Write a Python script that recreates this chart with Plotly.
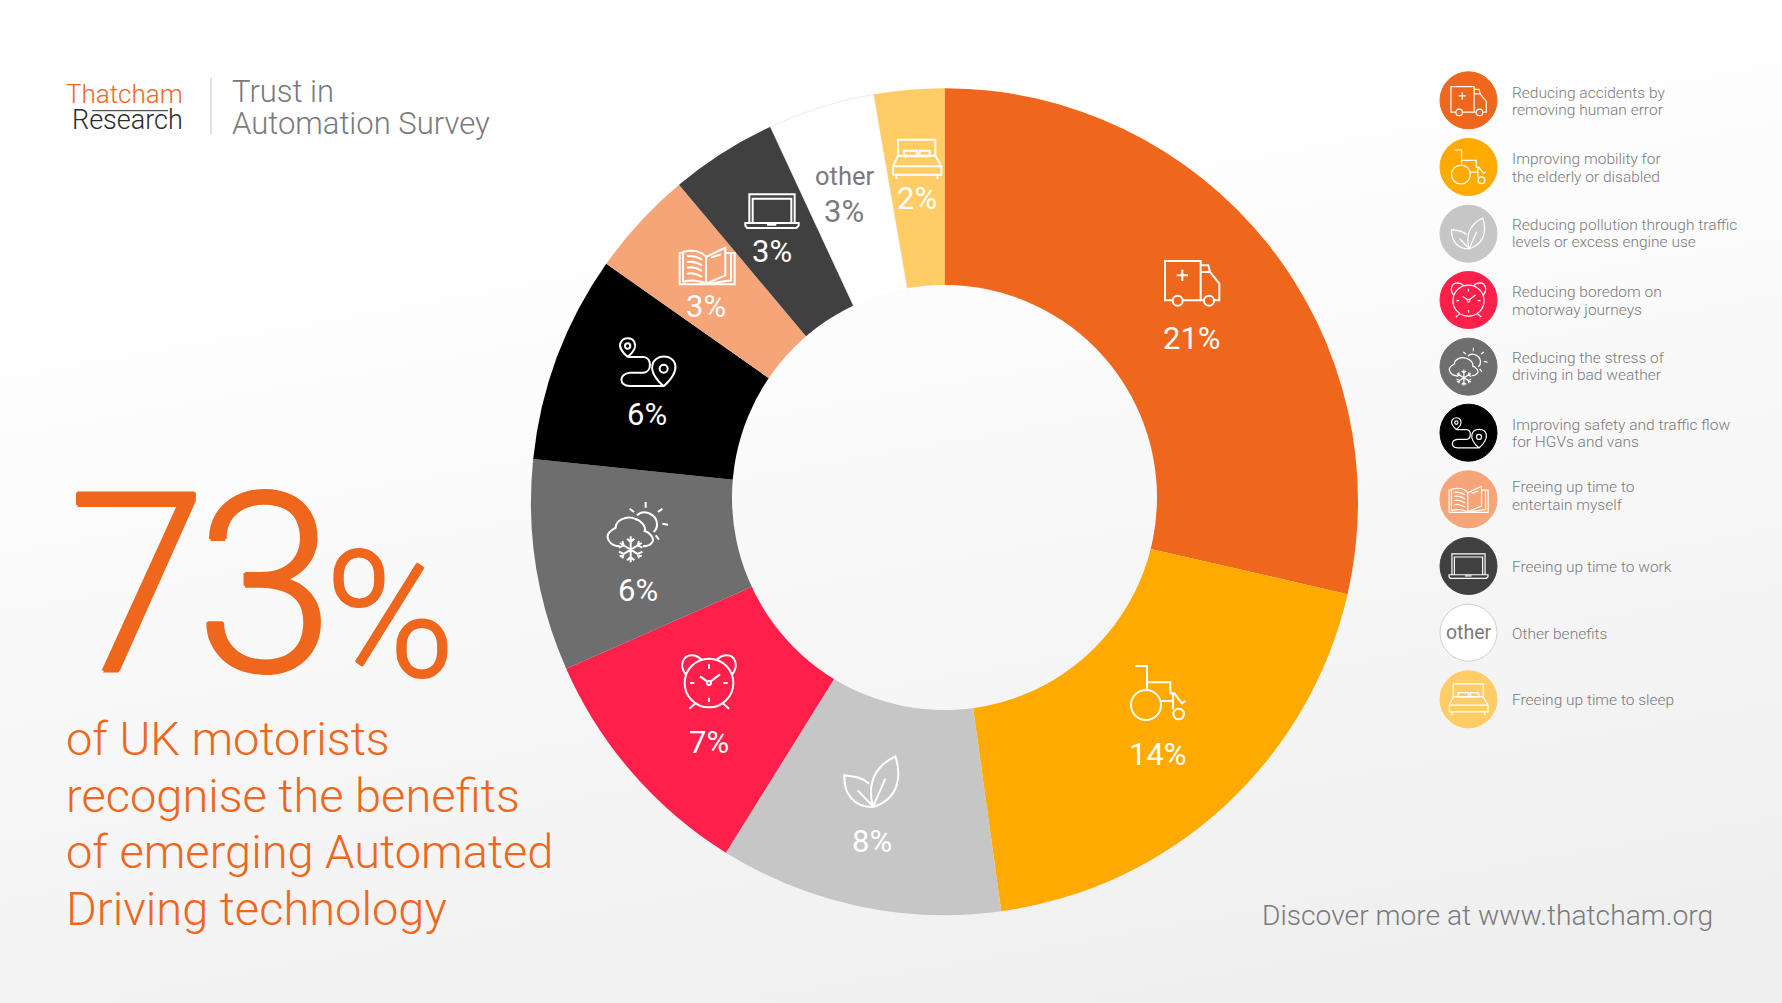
import re, base64
import plotly.graph_objects as go

W, H = 1782, 1003
# ---------- data ----------
categories = ["Reducing accidents by removing human error", "Improving mobility for the elderly or disabled",
              "Reducing pollution through traffic levels or excess engine use", "Reducing boredom on motorway journeys",
              "Reducing the stress of driving in bad weather", "Improving safety and traffic flow for HGVs and vans",
              "Freeing up time to entertain myself", "Freeing up time to work", "Other benefits", "Freeing up time to sleep"]
values = [20.87, 14.03, 8.07, 6.95, 6.03, 5.92, 3.03, 3.05, 3.05, 2.0]
colors = ["#EE671D", "#FFAA00", "#C6C6C6", "#FF1F4B", "#6E6E6E", "#000000", "#F5A578", "#404040", "#FFFFFF", "#FFCC66"]
legend_lines = [["Reducing accidents by", "removing human error"], ["Improving mobility for", "the elderly or disabled"],
                ["Reducing pollution through traffic", "levels or excess engine use"], ["Reducing boredom on", "motorway journeys"],
                ["Reducing the stress of", "driving in bad weather"], ["Improving safety and traffic flow", "for HGVs and vans"],
                ["Freeing up time to", "entertain myself"], ["Freeing up time to work"], ["Other benefits"], ["Freeing up time to sleep"]]
headline_lines = ["of UK motorists", "recognise the benefits", "of emerging Automated", "Driving technology"]
title_lines = ["Trust in", "Automation Survey"]

FONT = "Roboto"
GREY = "#7A7A7A"
ORANGE = "#EE671D"

def circ(cx, cy, r):
    k = 0.5523 * r
    return (f"M {cx-r} {cy} C {cx-r} {cy-k} {cx-k} {cy-r} {cx} {cy-r} C {cx+k} {cy-r} {cx+r} {cy-k} {cx+r} {cy} "
            f"C {cx+r} {cy+k} {cx+k} {cy+r} {cx} {cy+r} C {cx-k} {cy+r} {cx-r} {cy+k} {cx-r} {cy} Z")

# icon drawings are in 3x zoom pixels around an origin
ICONS = [
    dict(o=(276, 125), p=["M 218 180 L 195 180 L 195 62 L 302 62 L 302 180", "M 248 180 L 312 180", "M 342 180 L 358 180 L 358 130 L 330 95 L 302 95",
                          "M 302 75 L 325 75 L 330 95", circ(233, 181, 15), circ(327, 181, 15), "M 247 88 L 247 122", "M 230 105 L 264 105"]),
    dict(o=(173, 129), p=["M 105 48 L 140 48 L 140 120", "M 140 97 L 210 97 L 210 130 L 222 130 L 245 160 L 255 152",
                          "M 180 153 L 218 153", "M 218 130 L 218 178", circ(137, 165, 45), circ(235, 192, 16)]),
    dict(o=(875, 875), p=["M 878 950 C 860 880 880 830 945 798 C 965 860 955 925 878 950", "M 880 945 L 915 865",
                          "M 866 880 C 845 860 820 858 792 855 C 790 910 820 950 878 950", "M 832 900 L 878 948"]),
    dict(o=(387, 575), p=[circ(387, 578, 73), "M 318 553 C 295 525 310 495 335 495 C 350 495 360 503 367 510",
                          "M 456 553 C 478 525 465 495 440 495 C 425 495 415 503 408 510", "M 382 574 L 360 558", "M 392 573 L 420 552",
                          circ(387, 578, 6), "M 387 522 L 387 535", "M 387 622 L 387 635", "M 330 578 L 343 578", "M 430 578 L 443 578",
                          "M 345 640 L 328 655", "M 430 640 L 447 655"]),
    dict(o=(175, 125), p=["M 120 168 C 90 168 75 140 90 125 C 95 118 105 115 108 112 C 108 90 140 75 165 85 C 185 90 200 110 195 122 C 210 125 225 145 218 155 C 212 165 205 168 190 168",
                          "M 172 75 C 190 55 230 70 232 100 C 233 110 228 120 222 125", "M 198 35 L 198 52", "M 150 55 L 163 65", "M 248 55 L 235 65",
                          "M 248 100 L 265 103", "M 228 135 L 238 148", "M 153 138 L 153 216", "M 120 158 L 186 198", "M 186 158 L 120 198",
                          "M 142 145 L 153 155 L 164 145", "M 142 210 L 153 200 L 164 210", "M 118 172 L 132 165 L 128 152", "M 188 172 L 174 165 L 178 152",
                          "M 118 184 L 132 191 L 128 204", "M 188 184 L 174 191 L 178 204"]),
    dict(o=(170, 725), p=["M 112 710 C 90 690 85 675 92 665 C 100 650 125 650 132 665 C 140 680 130 695 112 710", circ(112, 677, 8),
                          "M 220 798 C 195 775 182 755 186 735 C 192 700 250 700 255 735 C 258 755 245 775 220 798", circ(220, 745, 12),
                          "M 112 710 L 160 710 C 185 712 185 755 160 757 L 118 757 C 85 760 85 797 118 797 L 222 797"]),
    dict(o=(350, 437), p=["M 278 398 L 268 398 L 268 492 L 433 492 L 433 398 L 420 398", "M 278 485 L 278 395 C 310 385 335 395 347 410 L 347 490 C 330 480 300 478 278 485",
                          "M 347 410 L 405 382 L 405 465 L 347 490", "M 405 398 L 422 398 L 422 480 L 355 490",
                          "M 290 408 C 305 405 320 408 335 418", "M 290 425 C 305 422 320 425 335 435", "M 290 442 C 305 439 320 442 335 452", "M 290 460 C 305 457 320 460 335 470",
                          "M 362 412 L 392 402"]),
    dict(o=(545, 272), p=["M 477 308 L 477 222 L 613 222 L 613 308", "M 487 308 L 487 235 L 603 235 L 603 308",
                          "M 465 308 L 625 308 L 625 316 L 618 323 L 470 323 L 465 316 Z", "M 530 313 L 558 313"]),
    None,
    dict(o=(982, 118), p=["M 925 108 L 925 60 L 1037 60 L 1037 108", "M 943 93 L 982 93 L 982 110 L 943 110 Z", "M 990 93 L 1020 93 L 1020 110 L 990 110 Z", "M 982 100 L 990 100",
                          "M 925 108 L 910 140 L 910 165 L 1055 165 L 1055 140 L 1037 108 Z", "M 910 140 L 1055 140", "M 920 165 L 920 178", "M 1043 165 L 1043 178"]),
]
icon_pos = [(1192, 282), (1158, 693), (872, 782), (709, 682), (638, 532), (647, 362), (707, 266), (772, 211), None, (917, 159)]
label_pos = [(1192, 338), (1158, 754), (872, 841), (709, 742), (638, 590), (647, 414), (706, 306), (772, 251), (844, 211), (917, 198)]
legend_scale = [0.65, 0.63, 0.61, 0.64, 0.63, 0.63, 0.71, 0.73, 0, 0.8]
legend_y = [100.3, 167, 233.7, 300, 366.7, 432.7, 499.3, 566, 632.7, 699.3]
legend_dy = [0, 0, -1, 0, -1, 0, -4.5, 0, 0, 0]

def place(path, o, c, s):
    idx = 0
    def rep(m):
        nonlocal idx
        v = float(m.group(0))
        r = (v - o[idx % 2]) / 3 * s + c[idx % 2]
        idx += 1
        return f"{r:.2f}"
    return re.sub(r"-?\d+\.?\d*", rep, path)

shapes, ann = [], []
def icon(i, c, s, w):
    d = ICONS[i]
    path = " ".join(place(p, d["o"], c, s) for p in d["p"])
    shapes.append(dict(type="path", xref="x", yref="y", path=path, line=dict(color="white", width=w), layer="above"))

def text(x, y, t, size, color=GREY, anchor="left", weight=300, family=FONT, shadow=None):
    f = dict(size=size, color=color, family=family, weight=weight)
    if shadow:
        f["shadow"] = shadow
    ann.append(dict(x=x, y=y, xref="x", yref="y", text=t, showarrow=False, xanchor=anchor, yanchor="middle", font=f))

# donut icons and labels
for i, v in enumerate(values):
    if ICONS[i]:
        icon(i, icon_pos[i], 1, 2)
    text(label_pos[i][0], label_pos[i][1], f"{round(v)}%", 31, GREY if colors[i] == "#FFFFFF" else "white", "center", 400)
text(844, 176, "other", 25.5, GREY, "center", 400)

# legend
for i, yc in enumerate(legend_y):
    shapes.append(dict(type="circle", xref="x", yref="y", x0=1440, x1=1497, y0=yc - 28.5, y1=yc + 28.5, fillcolor=colors[i],
                       line=dict(color="#D0D0D0" if colors[i] == "#FFFFFF" else colors[i], width=1), layer="above"))
    if ICONS[i]:
        icon(i, (1468.5, yc), legend_scale[i], 1.2)
    lines = legend_lines[i]
    for j, l in enumerate(lines):
        text(1510, yc + 1 + legend_dy[i] + (j - (len(lines) - 1) / 2) * 17.5, l, 15.5)
text(1468.5, 632.7, "other", 19.5, GREY, "center", 400)

# left side texts
text(64, 94, "Thatcham", 26, ORANGE)
text(70, 120, "Research", 27, "#2B2B2B")
shapes.append(dict(type="line", xref="x", yref="y", x0=92, x1=168, y0=110.7, y1=110.7, line=dict(color="#2B2B2B", width=1), layer="above"))
shapes.append(dict(type="line", xref="x", yref="y", x0=211, x1=211, y0=78, y1=134, line=dict(color="#C0C0C0", width=1), layer="above"))
for j, l in enumerate(title_lines):
    text(230, 91 + j * 32.5, l, 31)
fat = "1.5px 0 0 #EE671D,-1.5px 0 0 #EE671D,0 1.5px 0 #EE671D,0 -1.5px 0 #EE671D"
fat2 = "1px 0 0 #EE671D,-1px 0 0 #EE671D,0 1px 0 #EE671D,0 -1px 0 #EE671D"
text(66, 585, '<span style="letter-spacing:-11px">7</span>3', 250, ORANGE, shadow=fat)
text(323, 616, "%", 176, ORANGE, shadow=fat2)
for j, l in enumerate(headline_lines):
    text(64, 738.5 + j * 56.7, l, 47, ORANGE)
text(1260, 915, "Discover more at www.thatcham.org", 28.2, GREY)

cx, cy, r = 944.5, 501.7, 413.5
hole_cx, hole_cy, hole_r = 944.5, 497.5, 212.5

GRAD = (f'<defs><linearGradient id="g" gradientUnits="userSpaceOnUse" x1="800" y1="150" x2="960" y2="1050">'
        f'<stop offset="0" stop-color="#FFFFFF"/><stop offset="1" stop-color="#EFEFEF"/></linearGradient></defs>')
def svg(body):
    s = f'<svg xmlns="http://www.w3.org/2000/svg" width="{W}" height="{H}" viewBox="0 0 {W} {H}">{GRAD}{body}</svg>'
    return "data:image/svg+xml;base64," + base64.b64encode(s.encode()).decode()
img = dict(xref="paper", yref="paper", x=0, y=1, sizex=1, sizey=1, xanchor="left", yanchor="top", sizing="stretch")
images = [dict(source=svg(f'<rect width="{W}" height="{H}" fill="url(#g)"/>'), layer="below", **img),
          dict(source=svg(f'<circle cx="{hole_cx}" cy="{hole_cy}" r="{hole_r}" fill="url(#g)"/>'), layer="above", **img)]

line_w = [0.7 if c == "#FFFFFF" else 0 for c in colors]
fig = go.Figure()
fig.add_trace(go.Scatter(x=[0, W], y=[0, H], mode="markers", marker=dict(opacity=0), hoverinfo="skip", showlegend=False))
fig.add_trace(go.Pie(values=values, labels=categories, marker=dict(colors=colors, line=dict(width=line_w, color="#E2E2E2")), hole=205 / r, sort=False,
                     direction="clockwise", rotation=0, textinfo="none", hoverinfo="label", showlegend=False,
                     domain=dict(x=[(cx - r) / W, (cx + r) / W], y=[1 - (cy + r) / H, 1 - (cy - r) / H])))
fig.update_layout(width=W, height=H, margin=dict(l=0, r=0, t=0, b=0), paper_bgcolor="white", plot_bgcolor="rgba(0,0,0,0)", showlegend=False,
                  xaxis=dict(range=[0, W], visible=False, fixedrange=True), yaxis=dict(range=[H, 0], visible=False, fixedrange=True),
                  shapes=shapes, annotations=ann, images=images)
fig.write_html("out.html", config=dict(displayModeBar=False),
               post_script="document.body.style.margin='0';document.documentElement.style.overflow='hidden';")
